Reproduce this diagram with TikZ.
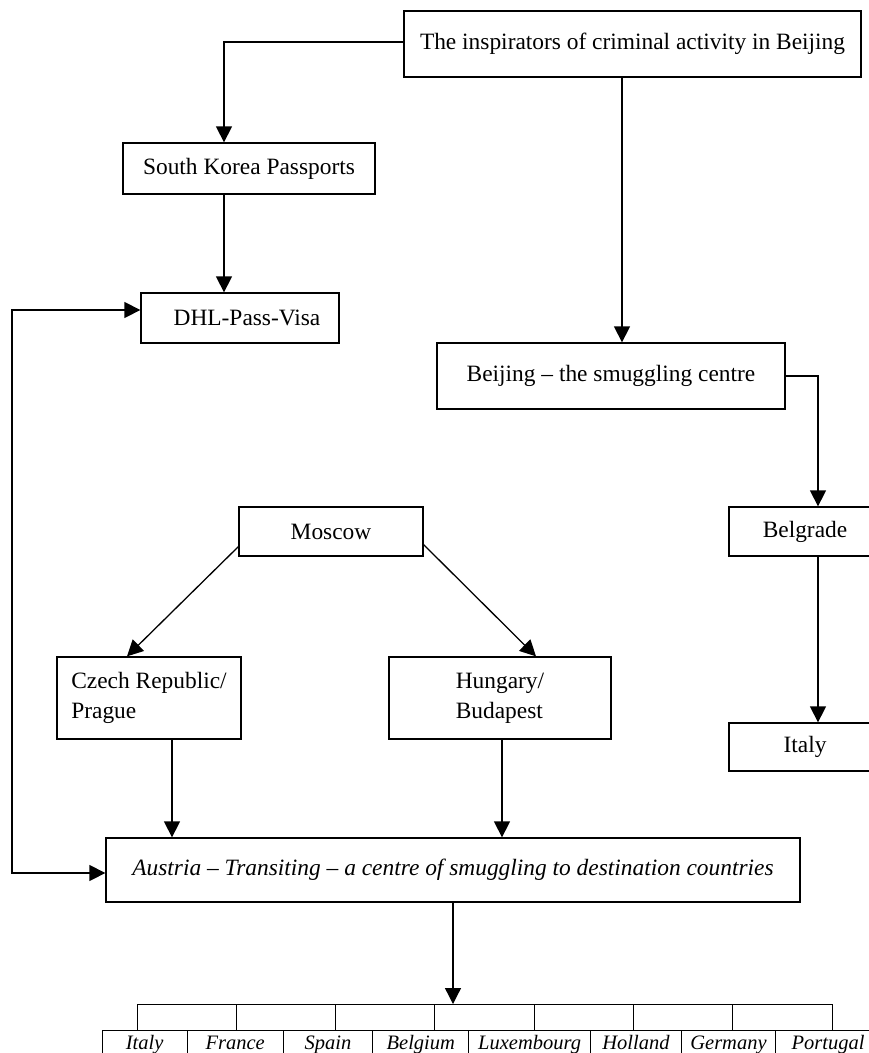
\documentclass[tikz,border=0pt]{standalone}
\usepackage{fontspec}
\setmainfont{Liberation Serif}
\usetikzlibrary{arrows.meta}
\begin{document}
\begin{tikzpicture}[x=1pt,y=-1pt,
  box/.style={draw,line width=1.3pt,inner sep=0pt,font=\fontsize{23.4}{30}\selectfont,align=center},
  arr/.style={line width=1.3pt,-{Triangle[length=16pt,width=16pt]}},
  dblarr/.style={line width=1.3pt,{Triangle[length=16pt,width=16pt]}-{Triangle[length=16pt,width=16pt]}},
  ln/.style={line width=1.3pt},
  thin/.style={line width=1pt},
  cell/.style={draw,line width=1pt,inner sep=0pt,anchor=north west,minimum height=28pt,text height=14pt,text depth=5pt,font=\fontsize{20.5}{24}\selectfont\itshape}]
\useasboundingbox (0,0) rectangle (869,1053);
\clip (0,0) rectangle (869,1053);

% boxes
\node[box,minimum width=457pt,minimum height=66pt] (top) at (632.5,44) {The inspirators of criminal activity in Beijing};
\node[box,minimum width=252pt,minimum height=51pt] (sk) at (249,168.5) {South Korea Passports};
\node[box,minimum width=198pt,minimum height=50pt] (dhl) at (240,318) {\hspace*{14pt}DHL-Pass-Visa};
\node[box,minimum width=348pt,minimum height=66pt] (bj) at (611,376) {Beijing -- the smuggling centre};
\node[box,minimum width=152pt,minimum height=49pt] (bel) at (805,531.5) {Belgrade};
\node[box,minimum width=152pt,minimum height=48pt] (it) at (805,747) {Italy};
\node[box,minimum width=184pt,minimum height=49pt] (mos) at (331,531.5) {Moscow};
\node[box,minimum width=184pt,minimum height=82pt,align=left] (cz) at (149,698) {Czech Republic/\\Prague};
\node[box,minimum width=222pt,minimum height=82pt,align=left] (hu) at (500,698) {Hungary/\\Budapest};
\node[box,minimum width=694pt,minimum height=64pt] (aus) at (453,870) {\itshape Austria -- Transiting -- a centre of smuggling to destination countries};

% connectors
\draw[arr] ([yshift=2pt]top.west) -| ([xshift=-25pt]sk.north);
\draw[arr] ([xshift=-25pt]sk.south) -- ([xshift=-25pt]sk.south |- dhl.north);
\draw[arr] ([xshift=-10.5pt]top.south) -- ([xshift=-10.5pt]top.south |- bj.north);
\draw[arr] (bj.east) -| ([xshift=13pt]bel.north);
\draw[arr] ([xshift=13pt]bel.south) -- ([xshift=13pt]it.north);
\draw[arr] ([yshift=10pt]mos.south west) -- ([xshift=-22pt]cz.north);
\draw[arr] ([yshift=12pt]mos.south east) -- ([xshift=36pt]hu.north);
\draw[arr] ([xshift=23pt]cz.south) -- ([xshift=23pt]cz.south |- aus.north);
\draw[arr] ([xshift=2pt]hu.south) -- ([xshift=2pt]hu.south |- aus.north);
\coordinate (loop) at (12,310);
\draw[dblarr] ([yshift=8pt]dhl.west) -- ([yshift=8pt]dhl.west -| loop) |- ([yshift=-3pt]aus.west);

% destination row
\coordinate (comb) at (453,1004);
\draw[arr] (aus.south) -- (comb);
\node[cell,minimum width=85pt] (c1) at (101.7,1030) {Italy};
\node[cell,minimum width=96pt] (c2) at (186.7,1030) {France};
\node[cell,minimum width=89.6pt] (c3) at (282.7,1030) {Spain};
\node[cell,minimum width=96pt] (c4) at (372.3,1030) {Belgium};
\node[cell,minimum width=121.7pt] (c5) at (468.3,1030) {Luxembourg};
\node[cell,minimum width=91pt] (c6) at (590,1030) {Holland};
\node[cell,minimum width=94pt] (c7) at (681,1030) {Germany};
\node[cell,minimum width=105pt] (c8) at (775,1030) {Portugal};
\foreach \i in {0,...,7} {
  \coordinate (t\i) at ({137+99.3*\i},1004);
  \draw[thin] (t\i) -- ({137+99.3*\i},1030);
}
\draw[thin] (t0) -- (t7);
\end{tikzpicture}
\end{document}
